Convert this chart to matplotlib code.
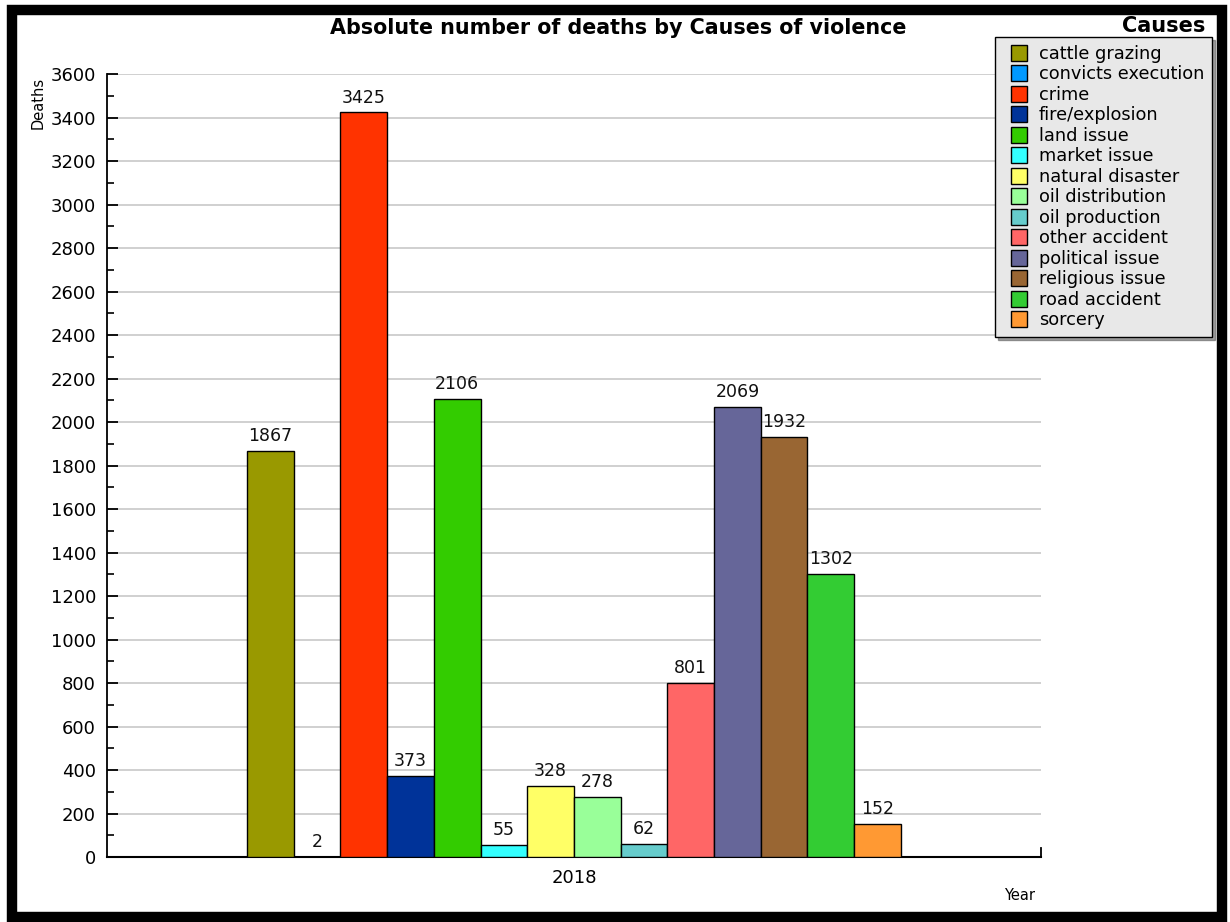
import matplotlib.pyplot as plt
from matplotlib.patches import Rectangle
from matplotlib.legend_handler import HandlerPatch
from matplotlib.ticker import MultipleLocator
import numpy as np

causes = ['cattle grazing', 'convicts execution', 'crime', 'fire/explosion',
          'land issue', 'market issue', 'natural disaster', 'oil distribution',
          'oil production', 'other accident', 'political issue',
          'religious issue', 'road accident', 'sorcery']
deaths = [1867, 2, 3425, 373, 2106, 55, 328, 278, 62, 801, 2069, 1932, 1302, 152]
colors = ['#999900', '#0099ff', '#ff3300', '#003399', '#33cc00', '#33ffff',
          '#ffff66', '#99ff99', '#66cccc', '#ff6666', '#666699', '#996633',
          '#33cc33', '#ff9933']
year = '2018'

fig = plt.figure(figsize=(12.3, 9.22), dpi=100)
ax = fig.add_axes([0.087, 0.0705, 0.7593, 0.8492])

n = len(causes)
w = 0.7 / n
xs = (np.arange(n) - (n - 1) / 2) * w
bars = ax.bar(xs, deaths, width=w, color=colors, edgecolor='black',
              linewidth=1, zorder=3)
ax.bar_label(bars, labels=[str(d) for d in deaths], padding=4, fontsize=12.5,
             color='#111111')

ax.set_xlim(-0.5, 0.5)
ax.set_ylim(0, 3600)
ax.set_xticks([0])
ax.set_xticklabels([year], fontsize=13)
ax.tick_params(axis='x', length=0, pad=9)
ax.yaxis.set_major_locator(MultipleLocator(200))
ax.yaxis.set_minor_locator(MultipleLocator(100))
ax.tick_params(axis='y', which='major', direction='in', length=8, width=1.3,
               labelsize=13, pad=8)
ax.tick_params(axis='y', which='minor', direction='in', length=5, width=1.2)
ax.grid(axis='y', color='#c8c8c8', linewidth=1.2, zorder=0)
ax.set_axisbelow(True)

ax.spines['top'].set_visible(False)
ax.spines['left'].set_linewidth(1.3)
ax.spines['bottom'].set_linewidth(1.5)
ax.spines['right'].set_bounds(0, 40)
ax.spines['right'].set_linewidth(1.3)

fig.text(0.5024, 0.9696, 'Absolute number of deaths by Causes of violence',
         ha='center', va='center', fontsize=14.9, fontweight='bold')
fig.text(0.031, 0.888, 'Deaths', rotation=90, ha='center', va='center',
         fontsize=10.5)
fig.text(0.829, 0.029, 'Year', ha='center', va='center', fontsize=10.5)


# square swatch pushed to the right of its handle box (wider left margin)
def square(legend, orig_handle, xdescent, ydescent, width, height, fontsize):
    s = 0.9 * fontsize
    return Rectangle((-xdescent + width - s, -ydescent + (height - s) / 2), s, s)


handles = [Rectangle((0, 0), 1, 1, facecolor=c, edgecolor='black', linewidth=1)
           for c in colors]
leg = fig.legend(handles, causes, loc='upper right',
                 bbox_to_anchor=(0.9854, 0.9599), bbox_transform=fig.transFigure,
                 fontsize=12.8, handlelength=1.35, handleheight=0.9,
                 labelspacing=0.14, handletextpad=0.65, borderpad=0.45,
                 borderaxespad=0, fancybox=False, shadow=True, framealpha=1,
                 handler_map={Rectangle: HandlerPatch(patch_func=square)})
leg.get_frame().set_facecolor('#e8e8e8')
leg.get_frame().set_edgecolor('black')
leg.get_frame().set_linewidth(1)
fig.text(0.98, 0.9715, 'Causes', ha='right', va='center', fontsize=15,
         fontweight='bold')

# thick black frame round the whole picture
fig.patches.append(Rectangle((12 / 1230, 5 / 922), 1210 / 1230, 907 / 922,
                             transform=fig.transFigure, fill=False,
                             edgecolor='black', linewidth=7.5, zorder=10))

fig.savefig('out.png', dpi=100)
